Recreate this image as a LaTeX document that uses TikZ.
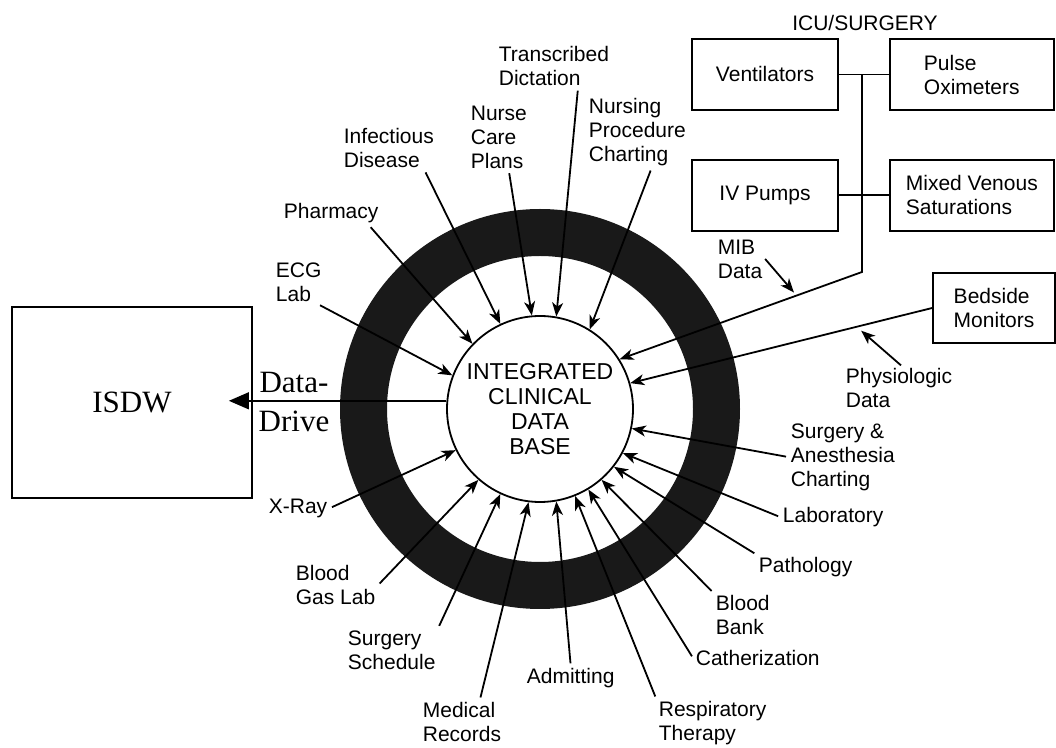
\documentclass[tikz,border=0pt]{standalone}
\usepackage{fontspec}
\setmainfont{Liberation Sans}
\newfontfamily\timesfont{Liberation Serif}
\usetikzlibrary{positioning,arrows.meta,calc}

\begin{document}
\begin{tikzpicture}[x=0.5pt,y=-0.5pt,line width=0.9pt,>={Stealth[length=7pt,width=5.5pt,inset=2pt]},
  lbl/.style={align=left, inner sep=1pt, font=\fontsize{10.5}{12}\selectfont},
  unitbox/.style={rectangle, draw, minimum height=35.5pt, inner sep=2pt, align=left, font=\fontsize{10.5}{12}\selectfont},
  spoke/.style={->, shorten <=1pt}]
\useasboundingbox (0,0) rectangle (1056,748);

% central data base with its ring
\node[circle, draw, fill=white, minimum size=93pt, inner sep=0pt, align=center, font=\fontsize{11.5}{12.5}\selectfont] (db) at (540,409) {INTEGRATED\\CLINICAL\\DATA\\BASE};
\fill[black!90, even odd rule] (db.center) circle (100pt) circle (76.5pt);

% ISDW
\node[draw, minimum width=120pt, minimum height=95.5pt, font=\timesfont\fontsize{15.5}{18}\selectfont] (isdw) at (132,402.5) {ISDW};
\node[align=center, inner sep=0pt, font=\timesfont\fontsize{15.5}{19.5}\selectfont] (drive) at (294,402) {Data-\\Drive};
\draw[-{Triangle[length=10pt,width=8.5pt]}, line width=0.7pt, shorten >=-12pt] (db.175) -- (db.175 -| isdw.east);

% ICU / surgery devices
\node[lbl] (icu) at (865,23) {ICU/SURGERY};
\node[unitbox, minimum width=73pt] (vent) at (765,74.5) {Ventilators};
\node[unitbox, minimum width=82pt, right=25pt of vent] (pulse) {Pulse\\Oximeters};
\node[unitbox, minimum width=73pt, below=24pt of vent] (ivp) {IV Pumps};
\node[unitbox, minimum width=82pt, right=25pt of ivp] (mixed) {Mixed Venous\\Saturations};
\coordinate (bus) at (862,272);
\draw (vent) -- (pulse);
\draw (ivp) -- (mixed);
\draw[->] (bus |- vent.east) -- (bus) -- (db.32);
\node[lbl] (mib) at (715,259) [anchor=west] {MIB\\Data};
\coordinate (mibpt) at ($(bus)!0.27!(db.32)$);
\draw[->, shorten >=2pt] (mib.east) -- (mibpt);

% bedside monitors
\node[unitbox, minimum width=61pt, minimum height=35pt] (bedside) at (994,308) {Bedside\\Monitors};
\draw[->] (bedside.west) -- (db.16);
\node[lbl, anchor=west] (physio) at (843,388) {Physiologic\\Data};
\coordinate (physpt) at ($(bedside.west)!0.25!(db.16)$);
\draw[->, shorten >=3pt] ([xshift=1pt]physio.north) -- (physpt);

% sources round the ring
\node[lbl, anchor=west] (ecg) at (273,282) {ECG\\Lab};
\node[lbl, anchor=west] (pharm) at (281,213) {Pharmacy};
\node[lbl, anchor=west] (infect) at (341,148) {Infectious\\Disease};
\node[lbl, anchor=west] (nurse) at (468,137) {Nurse\\Care\\Plans};
\node[lbl, anchor=west] (trans) at (496,66) {Transcribed\\Dictation};
\node[lbl, anchor=west] (nproc) at (586,132) {Nursing\\Procedure\\Charting};
\node[lbl, anchor=west] (surgan) at (788,457) {Surgery \&\\Anesthesia\\Charting};
\node[lbl, anchor=west] (lab) at (780,517) {Laboratory};
\node[lbl, anchor=west] (path) at (756,567) {Pathology};
\node[lbl, anchor=west] (bbank) at (713,615) {Blood\\Bank};
\node[lbl, anchor=west] (cath) at (693,658) {Catherization};
\node[lbl, anchor=west] (resp) at (656,723) {Respiratory\\Therapy};
\node[lbl, anchor=west] (admit) at (524,678) {Admitting};
\node[lbl, anchor=west] (medrec) at (420,722) {Medical\\Records};
\node[lbl, anchor=west] (surgsch) at (345,650) {Surgery\\Schedule};
\node[lbl, anchor=west] (bgas) at (293,585) {Blood\\Gas Lab};
\node[lbl, anchor=west] (xray) at (266,508) {X-Ray};

\draw[spoke] ([xshift=-3pt]ecg.south east) -- (db.159);
\draw[spoke] ([xshift=-6pt]pharm.south east) -- (db.136);
\draw[spoke] ([xshift=-6pt]infect.south east) -- (db.115);
\draw[spoke] ([xshift=5pt]nurse.south) -- (db.95);
\draw[spoke] ([xshift=12pt]trans.south) -- (db.80);
\draw[spoke] ([xshift=7pt]nproc.south) -- (db.58);
\draw[spoke] (surgan.west) -- (db.348);
\draw[spoke] (lab.west) -- (db.332);
\draw[spoke] (path.north west) -- (db.322);
\draw[spoke] (bbank.north west) -- (db.311);
\draw[spoke] (cath.west) -- (db.301);
\draw[spoke] (resp.north west) -- (db.292);
\draw[spoke] (admit.north) -- (db.280);
\draw[spoke] ([xshift=9pt]medrec.north) -- (db.263);
\draw[spoke] (surgsch.north east) -- (db.245);
\draw[spoke] (bgas.east) -- (db.229);
\draw[spoke] (xray.east) -- (db.206);
\end{tikzpicture}
\end{document}
